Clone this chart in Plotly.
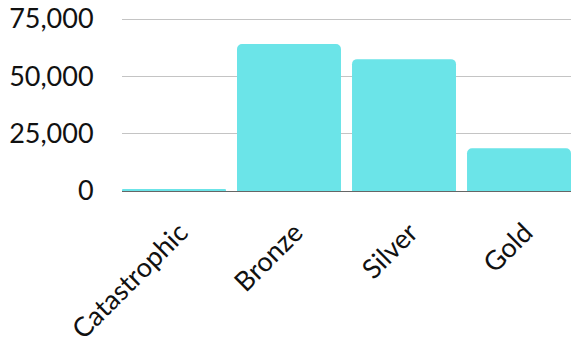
import plotly.graph_objects as go

categories = ["Catastrophic", "Bronze", "Silver", "Gold"]
values = [600, 64100, 57500, 18600]
tick_vals = [0, 25000, 50000, 75000]
tick_text = ["0", "25,000", "50,000", "75,000"]

fig = go.Figure(go.Bar(
    x=categories, y=values,
    marker=dict(color="#6BE4E8", cornerradius=5, line=dict(width=0)),
    width=0.904,
))
fig.update_layout(
    width=571, height=345,
    margin=dict(l=122, r=0, t=18, b=154),
    paper_bgcolor="white", plot_bgcolor="white",
    font=dict(family="Lato", size=27, color="#111"),
    showlegend=False,
)
fig.update_xaxes(
    range=[-0.452, 3.452], tickangle=-45, automargin=False,
    showline=True, linecolor="#666", linewidth=1,
    showgrid=False, ticks="", ticklabelstandoff=14, ticklabelshift=6,
    tickfont=dict(size=27),
)
fig.update_yaxes(
    range=[0, 75450], tickvals=tick_vals, ticktext=tick_text, automargin=False,
    showgrid=True, gridcolor="#c4c4c4", gridwidth=1,
    zeroline=False, showline=False,
    ticks="outside", ticklen=22, tickcolor="rgba(0,0,0,0)",
    tickfont=dict(size=27),
)
fig.write_html("out.html")
